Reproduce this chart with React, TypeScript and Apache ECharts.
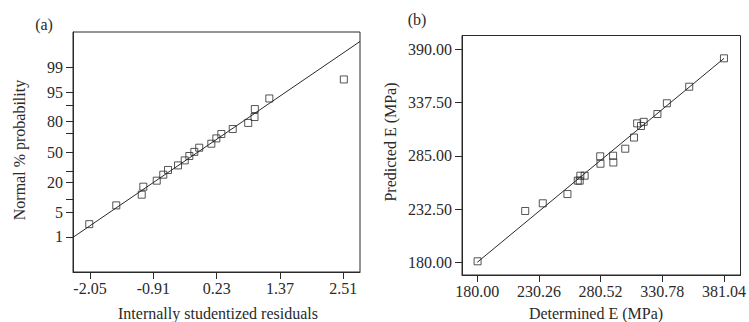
import React, { useEffect, useRef } from "react";
import * as echarts from "echarts";

// ---------- Panel (a): normal probability plot ----------
const residuals = [-2.063, -1.577, -1.119, -1.09, -0.849, -0.731, -0.646, -0.466, -0.345, -0.262, -0.172, -0.084, 0.134, 0.224, 0.314, 0.519, 0.798, 0.911, 0.917, 1.178, 2.519];
const normalScores = [-1.978, -1.463, -1.17, -0.951, -0.786, -0.622, -0.493, -0.367, -0.23, -0.11, 0.003, 0.118, 0.227, 0.373, 0.493, 0.63, 0.797, 0.959, 1.178, 1.468, 1.989];
const fitLineA_x = [-2.356, 2.81];
const fitLineA_z = [-2.34, 3.03];
const residualTicks = [-2.05, -0.91, 0.23, 1.37, 2.51];
const probLabels = ["1", "5", "10", "20", "30", "50", "70", "80", "90", "95", "99"];
const probZ = [-2.326, -1.645, -1.282, -0.842, -0.524, 0, 0.524, 0.842, 1.282, 1.645, 2.326];
const probShown = ["1", "5", "20", "50", "80", "95", "99"];

// ---------- Panel (b): predicted vs determined ----------
const determinedE = [180.3, 219.1, 233.4, 253.5, 261.9, 263.5, 264.0, 267.5, 280.2, 280.4, 290.7, 290.9, 300.6, 307.7, 310.3, 313.4, 315.6, 326.8, 334.5, 352.7, 381.0];
const predictedE = [181.0, 230.6, 238.2, 247.3, 260.5, 260.5, 265.4, 265.4, 284.5, 277.2, 285.1, 278.4, 292.0, 303.0, 317.0, 314.4, 318.5, 326.2, 336.8, 353.1, 381.1];
const fitLineB = [180.0, 381.04];
const determinedTicks = [180.0, 230.26, 280.52, 330.78, 381.04];
const predictedTicks = [180.0, 232.5, 285.0, 337.5, 390.0];

const FONT = '"Liberation Serif", "Times New Roman", serif';
const INK = "#2a2a2a";

export default function App() {
  const ref = useRef<HTMLDivElement>(null);

  useEffect(() => {
    if (!ref.current) return;
    const chart = echarts.init(ref.current, null, { renderer: "svg" });

    const probLabelZ = probZ.filter((_, i) => probShown.includes(probLabels[i]));
    const probFormatter = (v: number) => {
      let best = "";
      let d = Infinity;
      probZ.forEach((z, i) => {
        if (Math.abs(z - v) < d) {
          d = Math.abs(z - v);
          best = probLabels[i];
        }
      });
      return best;
    };

    const axisCommon = (ticks: number[], labelTicks: number[], fmt: (v: number) => string, margin: number) => ({
      type: "value" as const,
      splitLine: { show: false },
      axisLine: { show: true, onZero: false, lineStyle: { color: INK, width: 1 } },
      axisTick: { show: true, length: 7, customValues: ticks, lineStyle: { color: INK, width: 1 } },
      axisLabel: {
        customValues: labelTicks,
        formatter: fmt,
        margin,
        fontFamily: FONT,
        fontSize: 16,
        color: INK,
      },
    });

    const fmt2 = (v: number) => v.toFixed(2);

    const titleText = (text: string, x: number, y: number, rot = 0) => ({
      type: "text",
      x,
      y,
      rotation: rot,
      style: {
        text,
        fontFamily: FONT,
        fontSize: 16,
        fill: INK,
        align: "center",
        verticalAlign: "middle",
      },
    });

    chart.setOption({
      animation: false,
      backgroundColor: "#ffffff",
      grid: [
        { left: 73, top: 32, width: 287, height: 240, show: true, borderColor: INK, borderWidth: 1 },
        { left: 462, top: 35.5, width: 286, height: 239.5, show: true, borderColor: INK, borderWidth: 1 },
      ],
      xAxis: [
        { ...axisCommon(residualTicks, residualTicks, fmt2, 8), gridIndex: 0, min: -2.356, max: 2.81 },
        { ...axisCommon(determinedTicks, determinedTicks, fmt2, 8), gridIndex: 1, min: 167.6, max: 394.5 },
      ],
      yAxis: [
        { ...axisCommon(probZ, probLabelZ, probFormatter, 10), gridIndex: 0, min: -3.29, max: 3.29 },
        { ...axisCommon(predictedTicks, predictedTicks, fmt2, 10), gridIndex: 1, min: 167.5, max: 403.6 },
      ],
      series: [
        {
          type: "line",
          xAxisIndex: 0,
          yAxisIndex: 0,
          data: fitLineA_x.map((x, i) => [x, fitLineA_z[i]]),
          showSymbol: false,
          lineStyle: { color: INK, width: 1 },
          silent: true,
        },
        {
          type: "scatter",
          xAxisIndex: 0,
          yAxisIndex: 0,
          data: residuals.map((r, i) => [r, normalScores[i]]),
          symbol: "rect",
          symbolSize: 7,
          itemStyle: { color: "rgba(0,0,0,0)", borderColor: INK, borderWidth: 1 },
        },
        {
          type: "line",
          xAxisIndex: 1,
          yAxisIndex: 1,
          data: fitLineB.map((v) => [v, v]),
          showSymbol: false,
          lineStyle: { color: INK, width: 1 },
          silent: true,
        },
        {
          type: "scatter",
          xAxisIndex: 1,
          yAxisIndex: 1,
          data: determinedE.map((d, i) => [d, predictedE[i]]),
          symbol: "rect",
          symbolSize: 7,
          itemStyle: { color: "rgba(0,0,0,0)", borderColor: INK, borderWidth: 1 },
        },
      ],
      graphic: [
        titleText("(a)", 44, 24),
        titleText("(b)", 417, 19),
        titleText("Internally studentized residuals", 218, 313),
        titleText("Normal % probability", 19, 150, Math.PI / 2),
        titleText("Determined E (MPa)", 596, 313),
        titleText("Predicted E (MPa)", 390, 142, Math.PI / 2),
      ],
    });

    return () => chart.dispose();
  }, []);

  return (
    <div
      ref={ref}
      style={{ position: "absolute", left: 0, top: 0, width: 749, height: 322 }}
    />
  );
}
